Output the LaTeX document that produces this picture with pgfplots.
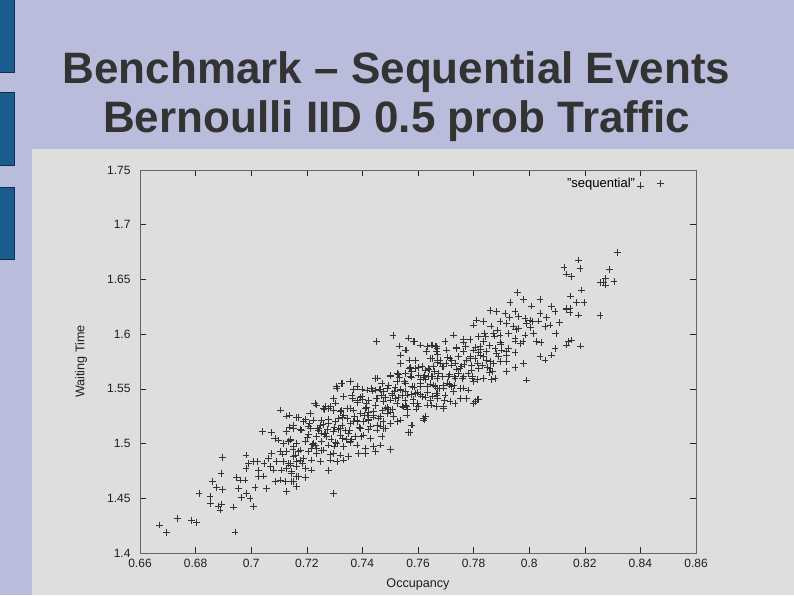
\documentclass[border=0pt]{standalone}
\usepackage{pgfplots}
\pgfplotsset{compat=1.18}
\usepackage{fontspec}
\setmainfont{Liberation Sans}
\definecolor{slidebg}{RGB}{185,189,219}
\definecolor{panel}{RGB}{222,222,222}
\definecolor{barblue}{RGB}{27,92,142}
\definecolor{bardark}{RGB}{18,45,75}
\definecolor{titlegray}{RGB}{51,51,51}
\definecolor{labgray}{RGB}{30,30,30}
\begin{document}
\begin{tikzpicture}
\useasboundingbox (0pt,0pt) rectangle (794pt,595pt);
\fill[slidebg] (0pt,0pt) rectangle (794pt,595pt);
\fill[panel] (32pt,0pt) rectangle (794pt,446pt);
\filldraw[fill=barblue,draw=bardark,line width=0.8pt] (-1pt,523pt) rectangle (14pt,596pt);
\filldraw[fill=barblue,draw=bardark,line width=0.8pt] (-1pt,430pt) rectangle (14pt,503pt);
\filldraw[fill=barblue,draw=bardark,line width=0.8pt] (-1pt,336pt) rectangle (14pt,408pt);
\node[anchor=base,inner sep=0pt,font=\fontsize{44}{48}\selectfont\bfseries,text=titlegray] at (396.5pt,511pt) {Benchmark – Sequential Events};
\node[anchor=base,inner sep=0pt,font=\fontsize{44}{48}\selectfont\bfseries,text=titlegray] at (396.5pt,462pt) {Bernoulli IID 0.5 prob Traffic};
\begin{axis}[
  at={(140pt,42pt)}, anchor=south west,
  scale only axis, width=556pt, height=383pt,
  xmin=0.66, xmax=0.86, ymin=1.4, ymax=1.75,
  xtick={0.66,0.68,0.70,0.72,0.74,0.76,0.78,0.80,0.82,0.84,0.86},
  xticklabels={0.66,0.68,0.7,0.72,0.74,0.76,0.78,0.8,0.82,0.84,0.86},
  ytick={1.4,1.45,1.5,1.55,1.6,1.65,1.7,1.75},
  yticklabels={1.4,1.45,1.5,1.55,1.6,1.65,1.7,1.75},
  /pgf/number format/assume math mode=true,
  tick align=inside, major tick length=6pt,
  tick style={black!85, line width=0.6pt},
  axis line style={black!60, line width=0.8pt},
  ticklabel style={font=\fontsize{12}{14}\selectfont, text=labgray},
  yticklabel style={xshift=-6pt},
  xticklabel style={yshift=-3pt},
  xlabel={Occupancy}, ylabel={Waiting Time},
  every axis x label/.style={at={(rel axis cs:0.5,0)}, yshift=-31pt, anchor=center, font=\fontsize{12.6}{15}\selectfont, text=labgray},
  every axis y label/.style={at={(rel axis cs:0,0.5)}, xshift=-59pt, rotate=90, anchor=center, font=\fontsize{12.6}{15}\selectfont, text=labgray},
  legend plot pos=right,
  legend style={at={(1,1)}, anchor=north east, xshift=-29pt, yshift=-4pt, draw=none, fill=none, column sep=20pt, font=\fontsize{13}{15}\selectfont},
]
\addplot[only marks, mark=+, mark size=3.4pt, color=black!80, line width=0.65pt] table {
x y
0.6670 1.4256
0.6696 1.4186
0.6734 1.4317
0.6786 1.4295
0.6804 1.4280
0.6812 1.4546
0.6852 1.4515
0.6854 1.4454
0.6861 1.4652
0.6876 1.4600
0.6881 1.4430
0.6888 1.4393
0.6894 1.4448
0.6897 1.4582
0.6891 1.4728
0.6897 1.4875
0.6936 1.4421
0.6942 1.4192
0.6948 1.4692
0.6954 1.4591
0.6966 1.4509
0.6984 1.4546
0.6996 1.4500
0.7008 1.4423
0.6981 1.4896
0.6990 1.4820
0.6981 1.4774
0.7014 1.4600
0.6960 1.4667
0.6978 1.4667
0.7025 1.4697
0.7008 1.4834
0.7022 1.4834
0.7041 1.5109
0.7073 1.5100
0.7056 1.4591
0.7025 1.4759
0.7043 1.4704
0.7046 1.4820
0.7062 1.4866
0.7068 1.4789
0.7080 1.4759
0.7074 1.4911
0.7086 1.4652
0.7104 1.5307
0.7128 1.5252
0.7164 1.5240
0.7151 1.5170
0.7128 1.5109
0.7098 1.5033
0.7115 1.5003
0.7133 1.5017
0.7151 1.4972
0.7104 1.4926
0.7128 1.4926
0.7158 1.4896
0.7092 1.4834
0.7115 1.4834
0.7140 1.4804
0.7164 1.4834
0.7110 1.4759
0.7128 1.4774
0.7146 1.4743
0.7164 1.4697
0.7104 1.4667
0.7122 1.4652
0.7146 1.4652
0.7161 1.4613
0.7126 1.4561
0.7137 1.5261
0.7169 1.5240
0.7211 1.5276
0.7235 1.5352
0.7307 1.5520
0.7325 1.5551
0.7355 1.5566
0.7295 1.4545
0.7277 1.4752
0.7499 1.4947
0.7577 1.5170
0.7571 1.5100
0.7619 1.5231
0.7533 1.5892
0.7557 1.5856
0.7586 1.5932
0.7610 1.5901
0.7632 1.5886
0.7650 1.5901
0.7668 1.5871
0.7536 1.5810
0.7569 1.5764
0.7590 1.5758
0.7536 1.5734
0.7614 1.5703
0.7626 1.5673
0.7650 1.5779
0.7668 1.5764
0.7590 1.5688
0.7526 1.5642
0.7500 1.5618
0.7554 1.5642
0.7574 1.5618
0.7602 1.5627
0.7638 1.5612
0.7668 1.5597
0.7446 1.5597
0.7470 1.5551
0.7494 1.5536
0.7524 1.5566
0.7554 1.5551
0.7578 1.5520
0.7608 1.5551
0.7632 1.5520
0.7656 1.5536
0.7671 1.5505
0.7356 1.5566
0.7380 1.5520
0.7326 1.5551
0.7308 1.5505
0.7416 1.5490
0.7446 1.5490
0.7476 1.5475
0.7506 1.5459
0.7536 1.5490
0.7560 1.5444
0.7590 1.5459
0.7614 1.5429
0.7644 1.5399
0.7668 1.5444
0.7332 1.5429
0.7362 1.5444
0.7380 1.5399
0.7398 1.5429
0.7422 1.5399
0.7452 1.5414
0.7476 1.5383
0.7500 1.5399
0.7524 1.5368
0.7554 1.5353
0.7584 1.5368
0.7602 1.5338
0.7632 1.5353
0.7296 1.5414
0.7236 1.5353
0.7212 1.5277
0.7164 1.5240
0.7260 1.5322
0.7284 1.5338
0.7320 1.5292
0.7344 1.5322
0.7368 1.5307
0.7392 1.5277
0.7416 1.5262
0.7440 1.5292
0.7464 1.5246
0.7488 1.5277
0.7512 1.5246
0.7536 1.5216
0.7560 1.5262
0.7626 1.5246
0.7578 1.5170
0.7566 1.5100
0.7188 1.5200
0.7224 1.5216
0.7254 1.5216
0.7278 1.5185
0.7302 1.5200
0.7326 1.5170
0.7356 1.5185
0.7380 1.5216
0.7404 1.5200
0.7428 1.5155
0.7452 1.5170
0.7476 1.5140
0.7500 1.5185
0.7152 1.5140
0.7182 1.5124
0.7212 1.5140
0.7242 1.5124
0.7266 1.5094
0.7296 1.5109
0.7320 1.5079
0.7350 1.5094
0.7374 1.5063
0.7404 1.5079
0.7428 1.5048
0.7452 1.5124
0.7470 1.5063
0.7140 1.5033
0.7164 1.5003
0.7194 1.5018
0.7224 1.5003
0.7254 1.5018
0.7278 1.4987
0.7308 1.5003
0.7332 1.4972
0.7356 1.5018
0.7380 1.4987
0.7410 1.4957
0.7440 1.4972
0.7464 1.4987
0.7500 1.4947
0.7176 1.4942
0.7206 1.4926
0.7236 1.4911
0.7260 1.4942
0.7296 1.4911
0.7320 1.4896
0.7350 1.4880
0.7386 1.4911
0.7410 1.4911
0.7446 1.4926
0.7152 1.4880
0.7188 1.4865
0.7218 1.4850
0.7248 1.4835
0.7284 1.4850
0.7308 1.4835
0.7332 1.4850
0.7140 1.4820
0.7164 1.4789
0.7194 1.4774
0.7218 1.4759
0.7278 1.4753
0.7146 1.4728
0.7170 1.4698
0.7194 1.4692
0.7152 1.4652
0.7164 1.4606
0.7296 1.4545
0.7957 1.6379
0.7979 1.6318
0.7931 1.6288
0.8039 1.6318
0.8009 1.6257
0.8081 1.6251
0.8093 1.6206
0.8135 1.6227
0.7859 1.6215
0.7883 1.6206
0.7913 1.6190
0.7949 1.6206
0.7961 1.6160
0.7985 1.6145
0.8003 1.6129
0.8039 1.6190
0.8057 1.6068
0.8075 1.6084
0.7811 1.6129
0.7835 1.6114
0.7799 1.6084
0.7895 1.6114
0.7919 1.6099
0.7943 1.6068
0.7961 1.6053
0.7991 1.6099
0.8015 1.6008
0.8096 1.6008
0.7727 1.5992
0.7763 1.5953
0.7787 1.5953
0.7817 1.5977
0.7835 1.5931
0.7871 1.6008
0.7895 1.5992
0.7925 1.6008
0.7949 1.5962
0.7967 1.5916
0.7985 1.5992
0.8027 1.5931
0.7697 1.5931
0.7661 1.5886
0.7649 1.5901
0.7667 1.5840
0.7703 1.5855
0.7739 1.5870
0.7763 1.5840
0.7799 1.5855
0.7823 1.5886
0.7847 1.5840
0.7877 1.5870
0.7901 1.5855
0.7949 1.5831
0.7919 1.5810
0.8093 1.5870
0.8141 1.5931
0.8039 1.5794
0.8057 1.5764
0.8081 1.5810
0.7679 1.5764
0.7715 1.5779
0.7745 1.5794
0.7775 1.5764
0.7805 1.5779
0.7835 1.5794
0.7859 1.5749
0.7889 1.5794
0.7895 1.5749
0.7919 1.5749
0.7949 1.5697
0.7643 1.5779
0.7655 1.5703
0.7691 1.5703
0.7721 1.5718
0.7751 1.5688
0.7793 1.5672
0.7817 1.5688
0.7859 1.5688
0.7919 1.5657
0.7649 1.5611
0.7673 1.5642
0.7709 1.5611
0.7733 1.5596
0.7763 1.5611
0.7799 1.5566
0.7835 1.5596
0.7877 1.5596
0.7991 1.5581
0.7661 1.5520
0.7691 1.5535
0.7721 1.5520
0.7751 1.5505
0.7781 1.5490
0.7667 1.5459
0.7697 1.5444
0.7727 1.5474
0.7715 1.5383
0.7751 1.5413
0.7775 1.5413
0.7805 1.5383
0.7817 1.5404
0.7733 1.5368
0.7667 1.5337
0.7691 1.5322
0.7649 1.5352
0.8317 1.6745
0.8177 1.6678
0.8125 1.6611
0.8183 1.6602
0.8135 1.6550
0.8153 1.6525
0.8288 1.6592
0.8273 1.6510
0.8255 1.6471
0.8267 1.6471
0.8273 1.6449
0.8305 1.6480
0.8189 1.6404
0.8149 1.6349
0.8171 1.6288
0.8197 1.6288
0.8147 1.6236
0.8135 1.6236
0.8147 1.6199
0.8177 1.6175
0.8255 1.6169
0.8153 1.5947
0.8135 1.5901
0.8185 1.5892
0.8399 1.7355
0.7583 1.5932
0.7553 1.5856
0.7631 1.5840
0.7667 1.5892
0.7510 1.5990
0.7565 1.5965
0.7450 1.5930
0.7621 1.5216
0.7691 1.5338
0.7813 1.5404
0.7799 1.5368
0.7125 1.5111
0.7133 1.4820
0.7142 1.5040
0.7150 1.4949
0.7161 1.5241
0.7169 1.4930
0.7176 1.5128
0.7184 1.4817
0.7195 1.5219
0.7203 1.5058
0.7210 1.5186
0.7218 1.4955
0.7229 1.5368
0.7236 1.5066
0.7244 1.5135
0.7253 1.4935
0.7262 1.5315
0.7270 1.5064
0.7279 1.5224
0.7287 1.5043
0.7296 1.5303
0.7304 1.5012
0.7313 1.5232
0.7321 1.5141
0.7330 1.5431
0.7338 1.5120
0.7347 1.5320
0.7355 1.5009
0.7364 1.5410
0.7372 1.5249
0.7381 1.5379
0.7389 1.5148
0.7398 1.5498
0.7406 1.5257
0.7415 1.5327
0.7423 1.5126
0.7432 1.5506
0.7440 1.5255
0.7449 1.5415
0.7457 1.5234
0.7466 1.5494
0.7474 1.5203
0.7483 1.5423
0.7491 1.5332
0.7500 1.5623
0.7508 1.5311
0.7517 1.5512
0.7525 1.5201
0.7534 1.5601
0.7542 1.5440
0.7551 1.5570
0.7559 1.5339
0.7568 1.5689
0.7576 1.5448
0.7585 1.5518
0.7593 1.5317
0.7602 1.5697
0.7610 1.5446
0.7619 1.5606
0.7627 1.5425
0.7636 1.5686
0.7644 1.5395
0.7653 1.5615
0.7661 1.5524
0.7670 1.5814
0.7678 1.5503
0.7687 1.5703
0.7695 1.5392
0.7704 1.5792
0.7712 1.5631
0.7721 1.5761
0.7729 1.5530
0.7738 1.5880
0.7746 1.5639
0.7755 1.5709
0.7763 1.5508
0.7772 1.5889
0.7780 1.5638
0.7789 1.5798
0.7797 1.5617
0.7806 1.5877
0.7814 1.5586
0.7823 1.5806
0.7831 1.5715
0.7840 1.6005
0.7848 1.5694
0.7857 1.5894
0.7865 1.5583
0.7874 1.5983
0.7882 1.5822
0.7254 1.5096
0.7277 1.5322
0.7300 1.4978
0.7323 1.5303
0.7346 1.5229
0.7369 1.5495
0.7392 1.5141
0.7415 1.5367
0.7438 1.5243
0.7461 1.5499
0.7484 1.5135
0.7507 1.5440
0.7530 1.5636
0.7553 1.5392
0.7576 1.5608
0.7599 1.5364
0.7622 1.5620
0.7645 1.5546
0.7668 1.5742
0.7691 1.5507
0.7239 1.5139
0.7262 1.5085
0.7331 1.5262
0.7354 1.5118
0.7400 1.5400
0.7423 1.5286
0.7469 1.5438
0.7492 1.5314
0.7538 1.5495
0.7561 1.5311
0.7085 1.5045
0.7112 1.4905
0.7138 1.5152
0.7178 1.4850
0.7205 1.5080
0.7232 1.4980
0.7258 1.5172
0.7285 1.4905
0.7312 1.5128
0.7341 1.5040
0.7368 1.5205
0.7395 1.5065
0.7421 1.5210
0.7447 1.5350
0.7473 1.5305
0.7502 1.5290
0.7528 1.5420
0.7556 1.5475
0.7582 1.5405
0.7609 1.5590
0.7633 1.5468
0.7659 1.5660
0.7686 1.5612
0.7712 1.5540
0.7738 1.5682
0.7765 1.5725
0.7792 1.5712
0.7818 1.5835
0.7845 1.5762
0.7872 1.5735
0.7898 1.5905
0.7925 1.5872
0.7952 1.6045
0.7978 1.5935
0.8005 1.6060
0.8032 1.6120
0.8062 1.6150
0.8110 1.6105
0.7928 1.6152
0.7862 1.6075
0.7205 1.5161
0.7236 1.4956
0.7267 1.5340
0.7298 1.5145
0.7329 1.5240
0.7360 1.5035
0.7391 1.5420
0.7422 1.5225
0.7453 1.5600
0.7484 1.5325
0.7515 1.5479
0.7546 1.5334
0.7577 1.5659
0.7608 1.5524
0.7639 1.5679
0.7670 1.5414
0.7701 1.5729
0.7732 1.5614
0.7763 1.5928
0.7794 1.5593
0.7825 1.5858
0.7856 1.5653
0.7887 1.6038
0.7918 1.5843
0.7949 1.5938
0.7980 1.5733
0.8011 1.6117
0.8042 1.5922
0.7221 1.4989
0.7248 1.5169
0.7275 1.5129
0.7302 1.5370
0.7329 1.5050
0.7356 1.5321
0.7383 1.5201
0.7410 1.5321
0.7437 1.5482
0.7464 1.5162
0.7491 1.5502
0.7518 1.5413
0.7545 1.5343
0.7572 1.5694
0.7599 1.5464
0.7626 1.5584
0.7653 1.5435
0.7680 1.5735
0.7707 1.5555
0.7734 1.5736
0.7761 1.5596
0.7788 1.5777
0.7815 1.5737
0.7842 1.5977
0.7869 1.5658
0.7896 1.5928
};
\addlegendentry{"sequential"}
\end{axis}
\end{tikzpicture}
\end{document}
